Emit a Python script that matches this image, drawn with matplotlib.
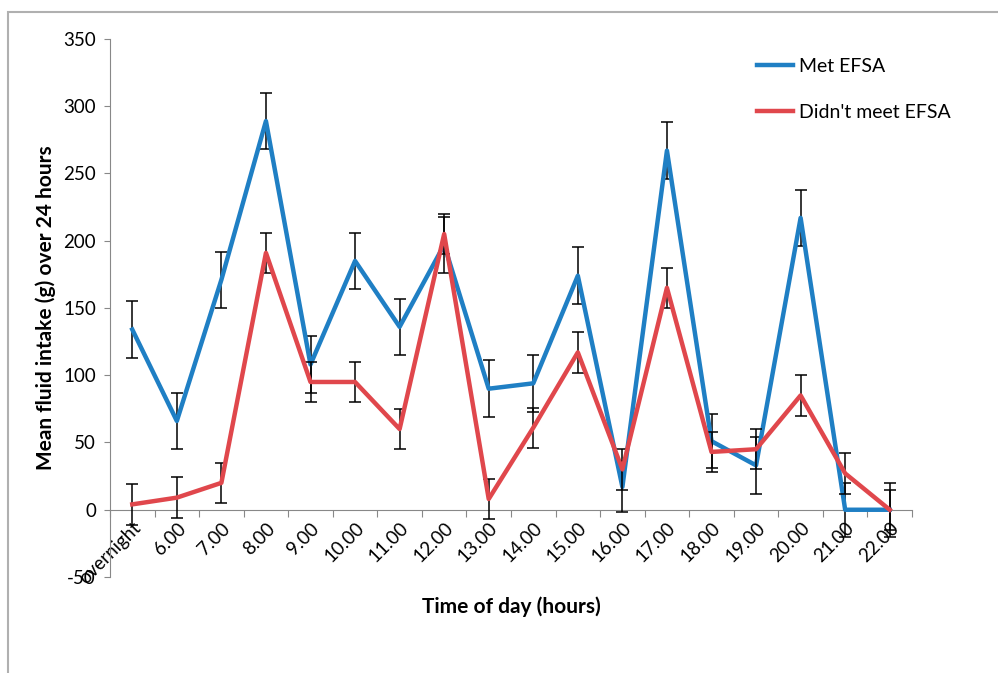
import matplotlib
matplotlib.use("Agg")
import matplotlib.pyplot as plt
from matplotlib.patches import Rectangle
from matplotlib.lines import Line2D
import numpy as np

categories = ["overnight", "6.00", "7.00", "8.00", "9.00", "10.00", "11.00", "12.00",
              "13.00", "14.00", "15.00", "16.00", "17.00", "18.00", "19.00", "20.00",
              "21.00", "22.00"]
met_efsa = [134, 66, 171, 289, 108, 185, 136, 197, 90, 94, 174, 17, 267, 51, 33, 217, 0, 0]
met_err = [21, 21, 21, 21, 21, 21, 21, 21, 21, 21, 21, 19, 21, 20, 21, 21, 20, 20]
not_met = [4, 9, 20, 191, 95, 95, 60, 205, 8, 61, 117, 30, 165, 43, 45, 85, 27, 0]
not_err = [15, 15, 15, 15, 15, 15, 15, 15, 15, 15, 15, 15, 15, 15, 15, 15, 15, 15]
yticks = [-50, 0, 50, 100, 150, 200, 250, 300, 350]

plt.rcParams['font.family'] = ['Lato', 'DejaVu Sans']
plt.rcParams['axes.unicode_minus'] = False

fig = plt.figure(figsize=(9.98, 6.73), dpi=100)
# outer frame
fig.patches.append(Rectangle((8/998, -0.1), 1.2, 1 - 12/673 + 0.1, transform=fig.transFigure,
                             fill=False, edgecolor="#b0b0b0", linewidth=1.5))

ax = fig.add_axes([110/998, 1 - 577/673, (912 - 110)/998, (577 - 39)/673])
x = np.arange(len(categories))
blue = "#1f7fc4"
red = "#e0474c"

ax.errorbar(x, met_efsa, yerr=met_err, color=blue, lw=3.2, ecolor="black", elinewidth=1.1,
            capsize=4, capthick=1.1, zorder=3)
ax.errorbar(x, not_met, yerr=not_err, color=red, lw=3.2, ecolor="black", elinewidth=1.1,
            capsize=4, capthick=1.1, zorder=4)

ax.set_xlim(-0.5, len(categories) - 0.5)
ax.set_ylim(-50, 350)
ax.set_yticks(yticks)
ax.tick_params(axis='y', labelsize=13.5, length=4, color="#888888", direction='out', pad=6)

for s in ['top', 'right']:
    ax.spines[s].set_visible(False)
ax.spines['left'].set_color("#888888")
ax.spines['bottom'].set_position(('data', 0))
ax.spines['bottom'].set_color("#888888")

ax.set_xticks(np.arange(-0.5, len(categories) + 0.5, 1))
ax.set_xticklabels([])
ax.set_xticks(x, minor=True)
ax.set_xticklabels(categories, minor=True, rotation=45, ha='right', va='top',
                   rotation_mode='anchor', fontsize=13.5)
ax.tick_params(axis='x', which='major', length=5, color="#888888", direction='out')
ax.tick_params(axis='x', which='minor', length=0, pad=7)

ax.set_ylabel("Mean fluid intake (g) over 24 hours", fontsize=15, fontweight='bold')
ax.yaxis.set_label_coords(-54/802, 0.5)
fig.text(511/998, 1 - 607/673, "Time of day (hours)", fontsize=15, fontweight='bold',
         ha='center', va='center')

handles = [Line2D([], [], color=blue, lw=3.2), Line2D([], [], color=red, lw=3.2)]
leg = ax.legend(handles, ["Met EFSA", "Didn't meet EFSA"], loc='upper left',
                bbox_to_anchor=(757/998, 1 - 58/673), bbox_transform=fig.transFigure,
                frameon=False, fontsize=14, handlelength=1.85, handletextpad=0.3,
                labelspacing=1.5, borderpad=0, borderaxespad=0)

fig.savefig("out.png", dpi=100)
